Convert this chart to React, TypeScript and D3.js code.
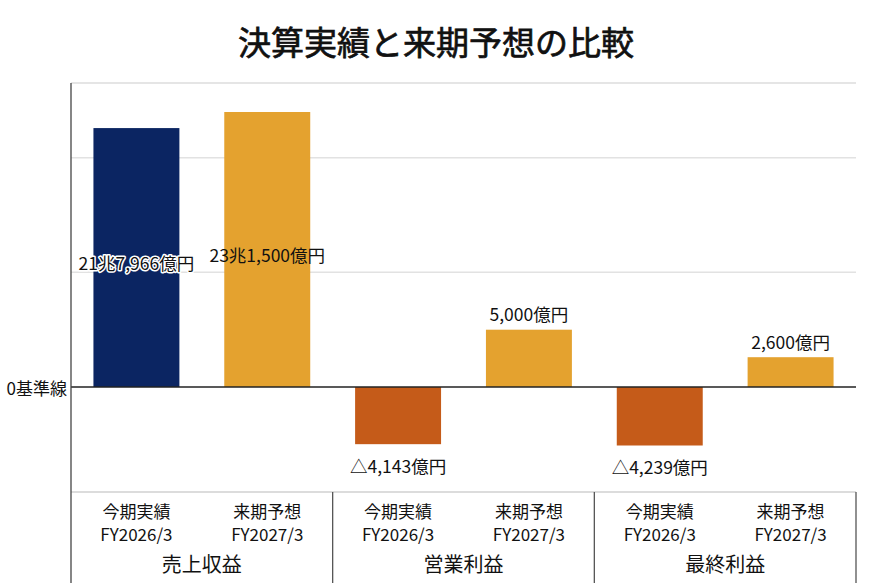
import React from "react";
import * as d3 from "d3";

const groups = ["売上収益", "営業利益", "最終利益"];
const periods = ["今期実績", "来期予想"];
const fiscalYears = ["FY2026/3", "FY2027/3"];
// 億円
const actualValues = [217966, -4143, -4239];
const forecastValues = [231500, 5000, 2600];
// grid ticks (revenue scale, 億円)
const gridValues = [96500, 193000];

const W = 870;
const H = 583;
const FONT = "'Noto Sans CJK JP', 'Noto Sans', sans-serif";

const COLORS = { navy: "#0b2562", gold: "#e4a22f", rust: "#c55b19" };

function fmtOku(v: number): string {
  const a = Math.abs(v);
  const sign = v < 0 ? "△" : "";
  if (a >= 10000) {
    const cho = Math.floor(a / 10000);
    const oku = a % 10000;
    return `${sign}${cho}兆${d3.format(",")(oku)}億円`;
  }
  return `${sign}${d3.format(",")(a)}億円`;
}

export default function App() {
  const left = 71;
  const right = 856;
  const plotTop = 83;
  const zeroY = 387;
  const tableTop = 492;

  const x0 = d3.scaleBand<string>().domain(groups).range([left, right]).padding(0);
  const x1 = d3
    .scaleBand<string>()
    .domain(periods)
    .range([0, x0.bandwidth()])
    .paddingInner(0.343)
    .paddingOuter(0.1715);

  const yRev = d3.scaleLinear().domain([0, 231500]).range([zeroY, 112]);
  const yProfit = d3.scaleLinear().domain([-5000, 0, 5000]).range([zeroY + 69, zeroY, zeroY - 57.3]);

  const bars = groups.flatMap((g, gi) =>
    periods.map((p, pi) => {
      const v = pi === 0 ? actualValues[gi] : forecastValues[gi];
      const y = gi === 0 ? yRev : yProfit;
      const color = pi === 1 ? COLORS.gold : v < 0 ? COLORS.rust : COLORS.navy;
      return { g, gi, p, pi, v, y, color };
    })
  );

  return (
    <svg width={W} height={H} style={{ position: "absolute", left: 0, top: 0, background: "#fff" }} fontFamily={FONT}>
      <rect x={0} y={0} width={W} height={H} fill="#fff" />
      <text
        x={436}
        y={41}
        textAnchor="middle"
        dominantBaseline="central"
        fontSize={33}
        fontWeight={400}
        fill="#111"
        stroke="#111"
        strokeWidth={0.7}
      >
        決算実績と来期予想の比較
      </text>

      {/* frame & gridlines */}
      <line x1={left} x2={right} y1={plotTop} y2={plotTop} stroke="#dcdcdc" strokeWidth={1.5} />
      {gridValues.map((gv) => (
        <line key={gv} x1={left} x2={right} y1={yRev(gv)} y2={yRev(gv)} stroke="#e2e2e2" strokeWidth={1.5} />
      ))}

      {/* bars */}
      {bars.map((b) => {
        const bx = (x0(b.g) ?? 0) + (x1(b.p) ?? 0);
        const yv = b.y(b.v);
        const y0 = b.y(0);
        return (
          <rect
            key={b.g + b.p}
            x={bx}
            y={Math.min(yv, y0)}
            width={x1.bandwidth()}
            height={Math.abs(yv - y0)}
            fill={b.color}
          />
        );
      })}

      {/* zero line */}
      <line x1={left} x2={right} y1={zeroY} y2={zeroY} stroke="#222" strokeWidth={1.3} />
      <text x={67} y={zeroY} textAnchor="end" dominantBaseline="central" fontSize={17} fill="#111">
        0基準線
      </text>

      {/* value labels */}
      {bars.map((b) => {
        const cx = (x0(b.g) ?? 0) + (x1(b.p) ?? 0) + x1.bandwidth() / 2;
        const yv = b.y(b.v);
        const y0 = b.y(0);
        const label = fmtOku(b.v);
        if (b.gi === 0) {
          const halo = b.color === COLORS.navy;
          return (
            <text
              key={"l" + b.g + b.p}
              x={cx}
              y={(yv + y0) / 2 + 5}
              textAnchor="middle"
              dominantBaseline="central"
              fontSize={17.5}
              fill="#111"
              stroke={halo ? "#fff" : "none"}
              strokeWidth={halo ? 3 : 0}
              paintOrder="stroke"
              strokeLinejoin="round"
            >
              {label}
            </text>
          );
        }
        const ly = b.v >= 0 ? yv - 16 : yv + 21;
        return (
          <text
            key={"l" + b.g + b.p}
            x={cx}
            y={ly}
            textAnchor="middle"
            dominantBaseline="central"
            fontSize={17.5}
            fill="#111"
          >
            {label}
          </text>
        );
      })}

      {/* table */}
      <line x1={left} x2={right} y1={tableTop} y2={tableTop} stroke="#dcdcdc" strokeWidth={2} />
      <line x1={left} x2={left} y1={plotTop} y2={H} stroke="#444" strokeWidth={1.3} />
      {groups.map((g, gi) => {
        const gx = x0(g) ?? 0;
        return (
          <g key={"t" + g}>
            {gi > 0 && <line x1={gx} x2={gx} y1={tableTop} y2={H} stroke="#555" strokeWidth={1.3} />}
            {periods.map((p, pi) => {
              const cx = gx + (x1(p) ?? 0) + x1.bandwidth() / 2;
              return (
                <g key={p}>
                  <text x={cx} y={510.5} textAnchor="middle" dominantBaseline="central" fontSize={17} fill="#111">
                    {p}
                  </text>
                  <text x={cx} y={533.5} textAnchor="middle" dominantBaseline="central" fontSize={17} fill="#111">
                    {fiscalYears[pi]}
                  </text>
                </g>
              );
            })}
            <text
              x={gx + x0.bandwidth() / 2}
              y={563}
              textAnchor="middle"
              dominantBaseline="central"
              fontSize={20}
              fill="#111"
            >
              {g}
            </text>
          </g>
        );
      })}
      <line x1={right} x2={right} y1={tableTop} y2={H} stroke="#555" strokeWidth={1.3} />
    </svg>
  );
}
